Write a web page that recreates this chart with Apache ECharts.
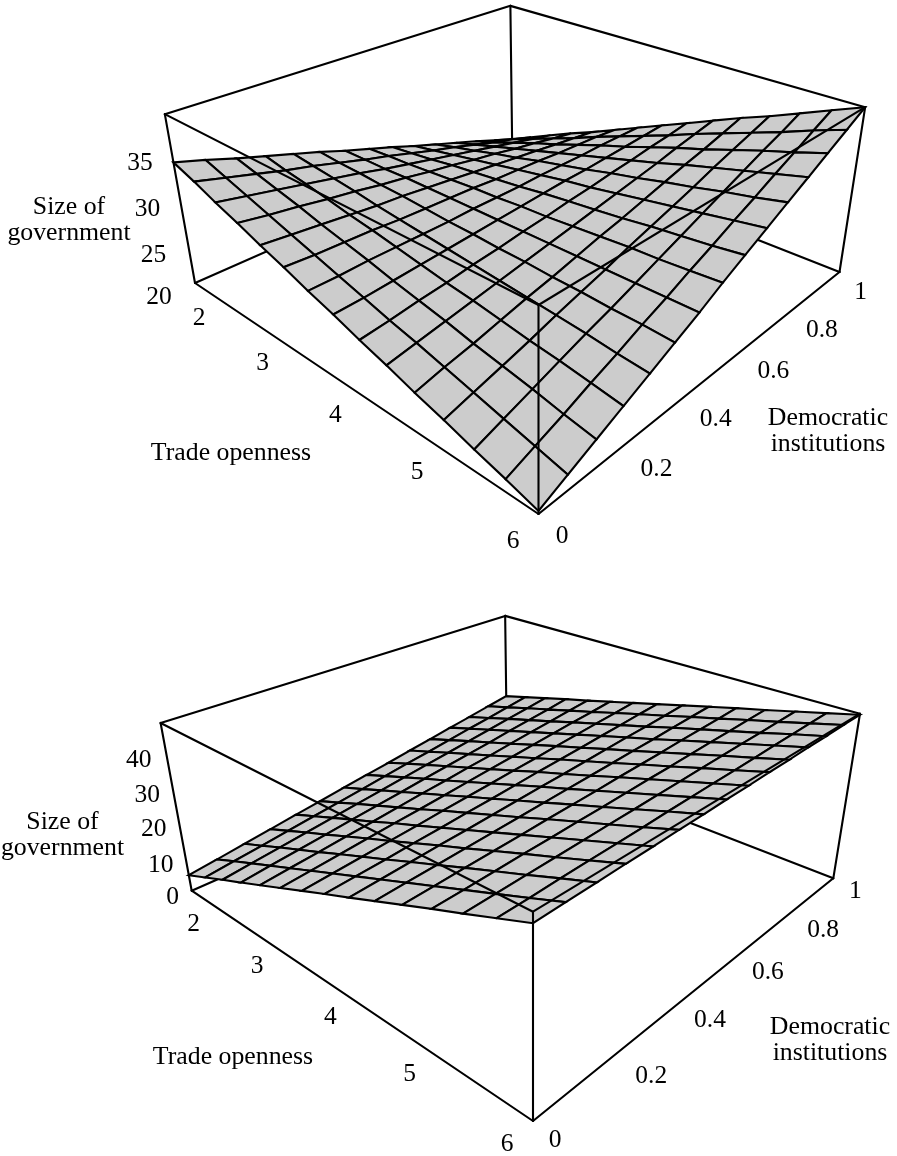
<!DOCTYPE html>
<html>
<head>
<meta charset="utf-8">
<title>Size of government surfaces</title>
<script src="https://cdn.jsdelivr.net/npm/echarts@6/dist/echarts.min.js"></script>
<style>
  html, body { margin: 0; padding: 0; background: #fff; }
  #chart { width: 897px; height: 1156px; }
</style>
</head>
<body>
<div id="chart"></div>
<script>
// grid nodes shared by both surfaces
const tradeNodes = [2, 2.286, 2.571, 2.857, 3.143, 3.429, 3.714, 4, 4.286, 4.571, 4.857, 5.143, 5.429, 5.714, 6]
const demNodes = [0, 0.071, 0.143, 0.214, 0.286, 0.357, 0.429, 0.5, 0.571, 0.643, 0.714, 0.786, 0.857, 0.929, 1]

const tradeTicks = [2, 3, 4, 5, 6]
const demTicks = [0, 0.2, 0.4, 0.6, 0.8, 1]
const topZTicks = [20, 25, 30, 35]
const bottomZTicks = [0, 10, 20, 30, 40]
const topZRange = [20, 38.6]
const bottomZRange = [0, 49]

// rows = trade openness, columns = democratic institutions
const topSurface = [
  [33.6, 32.7, 31.7, 30.8, 29.9, 29.0, 28.0, 27.1, 26.2, 25.2, 24.3, 23.4, 22.5, 21.5, 20.6],
  [32.7, 31.9, 31.1, 30.3, 29.6, 28.8, 28.0, 27.3, 26.5, 25.7, 25.0, 24.2, 23.4, 22.7, 21.9],
  [31.7, 31.1, 30.5, 29.9, 29.3, 28.7, 28.0, 27.4, 26.8, 26.2, 25.6, 25.0, 24.4, 23.8, 23.2],
  [30.8, 30.3, 29.9, 29.4, 29.0, 28.5, 28.1, 27.6, 27.2, 26.7, 26.3, 25.8, 25.4, 24.9, 24.5],
  [29.8, 29.5, 29.2, 28.9, 28.6, 28.4, 28.1, 27.8, 27.5, 27.2, 26.9, 26.6, 26.3, 26.0, 25.7],
  [28.9, 28.7, 28.6, 28.5, 28.3, 28.2, 28.1, 28.0, 27.8, 27.7, 27.6, 27.4, 27.3, 27.2, 27.0],
  [27.9, 27.9, 28.0, 28.0, 28.0, 28.0, 28.1, 28.1, 28.1, 28.2, 28.2, 28.2, 28.3, 28.3, 28.3],
  [27.0, 27.1, 27.3, 27.5, 27.7, 27.9, 28.1, 28.3, 28.5, 28.7, 28.8, 29.0, 29.2, 29.4, 29.6],
  [26.0, 26.3, 26.7, 27.0, 27.4, 27.7, 28.1, 28.4, 28.8, 29.1, 29.5, 29.8, 30.2, 30.5, 30.9],
  [25.1, 25.6, 26.1, 26.6, 27.1, 27.6, 28.1, 28.6, 29.1, 29.6, 30.1, 30.6, 31.2, 31.7, 32.2],
  [24.1, 24.8, 25.4, 26.1, 26.8, 27.4, 28.1, 28.8, 29.4, 30.1, 30.8, 31.5, 32.1, 32.8, 33.5],
  [23.2, 24.0, 24.8, 25.6, 26.5, 27.3, 28.1, 29.0, 29.8, 30.6, 31.4, 32.3, 33.1, 33.9, 34.7],
  [22.2, 23.2, 24.2, 25.2, 26.2, 27.1, 28.1, 29.1, 30.1, 31.1, 32.1, 33.1, 34.1, 35.0, 36.0],
  [21.3, 22.4, 23.5, 24.7, 25.8, 27.0, 28.1, 29.3, 30.4, 31.6, 32.7, 33.9, 35.0, 36.2, 37.3],
  [20.3, 21.6, 22.9, 24.2, 25.5, 26.8, 28.1, 29.5, 30.8, 32.1, 33.4, 34.7, 36.0, 37.3, 38.6]
]

const bottomSurface = [
  [4.9, 6.0, 7.2, 8.3, 9.5, 10.6, 11.8, 12.9, 14.0, 15.2, 16.3, 17.5, 18.6, 19.8, 20.9],
  [7.9, 9.0, 10.0, 11.1, 12.2, 13.2, 14.3, 15.4, 16.5, 17.5, 18.6, 19.7, 20.7, 21.8, 22.9],
  [10.9, 11.9, 12.9, 13.9, 14.9, 15.9, 16.9, 17.9, 18.9, 19.9, 20.9, 21.9, 22.9, 23.9, 24.9],
  [13.8, 14.8, 15.7, 16.6, 17.6, 18.5, 19.4, 20.4, 21.3, 22.2, 23.1, 24.1, 25.0, 25.9, 26.9],
  [16.8, 17.7, 18.5, 19.4, 20.2, 21.1, 22.0, 22.8, 23.7, 24.5, 25.4, 26.3, 27.1, 28.0, 28.8],
  [19.8, 20.6, 21.4, 22.2, 23.0, 23.7, 24.5, 25.3, 26.1, 26.9, 27.7, 28.5, 29.3, 30.0, 30.8],
  [22.8, 23.5, 24.2, 24.9, 25.6, 26.4, 27.1, 27.8, 28.5, 29.2, 30.0, 30.7, 31.4, 32.1, 32.8],
  [25.8, 26.4, 27.0, 27.7, 28.3, 29.0, 29.6, 30.3, 31.0, 31.6, 32.2, 32.9, 33.5, 34.2, 34.8],
  [28.7, 29.3, 29.9, 30.5, 31.0, 31.6, 32.2, 32.8, 33.3, 33.9, 34.5, 35.1, 35.6, 36.2, 36.8],
  [31.7, 32.2, 32.7, 33.2, 33.7, 34.2, 34.7, 35.2, 35.7, 36.2, 36.7, 37.2, 37.8, 38.3, 38.8],
  [34.7, 35.1, 35.6, 36.0, 36.4, 36.9, 37.3, 37.7, 38.2, 38.6, 39.0, 39.5, 39.9, 40.3, 40.8],
  [37.7, 38.0, 38.4, 38.8, 39.1, 39.5, 39.8, 40.2, 40.6, 40.9, 41.3, 41.7, 42.0, 42.4, 42.7],
  [40.6, 40.9, 41.2, 41.5, 41.8, 42.1, 42.4, 42.7, 43.0, 43.3, 43.6, 43.9, 44.1, 44.4, 44.7],
  [43.6, 43.8, 44.1, 44.3, 44.5, 44.7, 45.0, 45.2, 45.4, 45.6, 45.8, 46.1, 46.3, 46.5, 46.7],
  [46.6, 46.8, 46.9, 47.1, 47.2, 47.4, 47.5, 47.7, 47.8, 48.0, 48.1, 48.3, 48.4, 48.6, 48.7]
]

// camera for each panel: where the front corner and its three box edges land,
// plus the perspective weight along each edge
const topPanel = {
  surface: topSurface,
  zRange: topZRange,
  zTicks: topZTicks,
  origin: [538.5, 514],
  tradeEnd: [195, 283],
  demEnd: [839.5, 272],
  zEnd: [538.5, 305],
  weights: [1.362, 1.4, 0.89],
  tradeNudge: [[4, 35], [0, 35], [-5, 34], [-14, 30], [-25.5, 27]],
  demNudge: [[23.5, 22], [40, 18], [32, 22], [31, 21], [28, 22], [21, 20]],
  zNudge: [[-36, 14], [-34, 15], [-32, 14], [-31, 14]]
}

const bottomPanel = {
  surface: bottomSurface,
  zRange: bottomZRange,
  zTicks: bottomZTicks,
  origin: [533, 1121],
  tradeEnd: [191.7, 890.7],
  demEnd: [833.3, 878.3],
  zEnd: [533, 911.7],
  weights: [1.377, 1.41, 0.885],
  tradeNudge: [[2, 34], [-1, 31], [-5, 30], [-16, 26], [-26, 23]],
  demNudge: [[22, 19], [40, 19], [31.5, 17], [31, 16], [35, 15], [22, 13]],
  zNudge: [[-19, 6.5], [-25, 7], [-26, 4], [-26, 4], [-28, 4]]
}

const LINE_WIDTH = 2.1
const FONT = '"Liberation Serif", "Times New Roman", serif'

// trade 6 / dem 0 / z min is the front corner, everything is measured from there
const project = (panel, trade, dem, z) => {
  const [zMin, zMax] = panel.zRange
  const u = (6 - trade) / 4
  const v = dem
  const w = (z - zMin) / (zMax - zMin)
  const [a, b, c] = panel.weights
  const o = panel.origin
  const h = 1 + u * (a - 1) + v * (b - 1) + w * (c - 1)
  const axisPart = k =>
    o[k] +
    u * (a * panel.tradeEnd[k] - o[k]) +
    v * (b * panel.demEnd[k] - o[k]) +
    w * (c * panel.zEnd[k] - o[k])
  return [axisPart(0) / h, axisPart(1) / h]
}

const surfaceSeries = panel => {
  const cells = []
  // far corner first so nearer cells paint on top
  for (let i = 0; i < tradeNodes.length - 1; i++) {
    for (let j = demNodes.length - 2; j >= 0; j--) {
      cells.push([i, j])
    }
  }
  return {
    type: 'custom',
    coordinateSystem: 'cartesian2d',
    z: 2,
    silent: true,
    clip: false,
    data: cells,
    renderItem: (params, api) => {
      const i = api.value(0)
      const j = api.value(1)
      const corners = [[i, j], [i + 1, j], [i + 1, j + 1], [i, j + 1]]
      const points = corners.map(([r, s]) =>
        api.coord(project(panel, tradeNodes[r], demNodes[s], panel.surface[r][s]))
      )
      return {
        type: 'polygon',
        shape: { points },
        style: { fill: '#cccccc', stroke: '#000', lineWidth: LINE_WIDTH }
      }
    }
  }
}

// box edges as pairs of [trade, dem, zIndex] corners
const edgeSeries = (panel, edges, zLevel) => ({
  type: 'custom',
  coordinateSystem: 'cartesian2d',
  z: zLevel,
  silent: true,
  clip: false,
  data: edges.map((e, idx) => [idx]),
  renderItem: (params, api) => {
    const edge = edges[api.value(0)]
    const [p1, p2] = edge.map(([t, d, top]) =>
      api.coord(project(panel, t, d, panel.zRange[top]))
    )
    return {
      type: 'line',
      shape: { x1: p1[0], y1: p1[1], x2: p2[0], y2: p2[1] },
      style: { stroke: '#000', lineWidth: LINE_WIDTH, lineCap: 'round' }
    }
  }
})

const backEdges = [
  [[2, 0, 0], [2, 1, 0]],
  [[2, 1, 0], [6, 1, 0]],
  [[2, 1, 0], [2, 1, 1]]
]

const frontEdges = [
  [[2, 0, 0], [6, 0, 0]],
  [[6, 0, 0], [6, 1, 0]],
  [[2, 0, 0], [2, 0, 1]],
  [[6, 0, 0], [6, 0, 1]],
  [[6, 1, 0], [6, 1, 1]],
  [[2, 0, 1], [6, 0, 1]],
  [[6, 0, 1], [6, 1, 1]],
  [[6, 1, 1], [2, 1, 1]],
  [[2, 1, 1], [2, 0, 1]]
]

const tickSeries = panel => {
  const [zMin] = panel.zRange
  const ticks = [
    ...tradeTicks.map((t, i) => [String(t), project(panel, t, 0, zMin), panel.tradeNudge[i]]),
    ...demTicks.map((d, i) => [String(d), project(panel, 6, d, zMin), panel.demNudge[i]]),
    ...panel.zTicks.map((z, i) => [String(z), project(panel, 2, 0, z), panel.zNudge[i]])
  ]
  return {
    type: 'custom',
    coordinateSystem: 'cartesian2d',
    z: 4,
    silent: true,
    clip: false,
    data: ticks.map((t, idx) => [idx]),
    renderItem: (params, api) => {
      const [label, anchor, nudge] = ticks[api.value(0)]
      const pos = api.coord(anchor)
      return {
        type: 'text',
        x: pos[0] + nudge[0],
        y: pos[1] + nudge[1],
        style: {
          text: label,
          fill: '#000',
          font: `25.5px ${FONT}`,
          align: 'center',
          verticalAlign: 'middle'
        }
      }
    }
  }
}

const axisTitle = (text, x, y) => ({
  type: 'text',
  x,
  y,
  z: 5,
  silent: true,
  style: {
    text,
    fill: '#000',
    font: `25.8px ${FONT}`,
    align: 'center',
    verticalAlign: 'middle',
    lineHeight: 26
  }
})

const panelSeries = panel => [
  edgeSeries(panel, backEdges, 1),
  surfaceSeries(panel),
  edgeSeries(panel, frontEdges, 3),
  tickSeries(panel)
]

const chart = echarts.init(document.getElementById('chart'), null, { renderer: 'canvas' })

chart.setOption({
  animation: false,
  backgroundColor: '#fff',
  grid: { left: 0, right: 0, top: 0, bottom: 0 },
  xAxis: { type: 'value', min: 0, max: 897, show: false },
  yAxis: { type: 'value', min: 0, max: 1156, inverse: true, show: false },
  series: [...panelSeries(topPanel), ...panelSeries(bottomPanel)],
  graphic: [
    axisTitle('Size of\ngovernment', 69, 220),
    axisTitle('Trade openness', 231, 453),
    axisTitle('Democratic\ninstitutions', 828, 431),
    axisTitle('Size of\ngovernment', 62.5, 835),
    axisTitle('Trade openness', 233, 1057),
    axisTitle('Democratic\ninstitutions', 830, 1040)
  ]
})
</script>
</body>
</html>
